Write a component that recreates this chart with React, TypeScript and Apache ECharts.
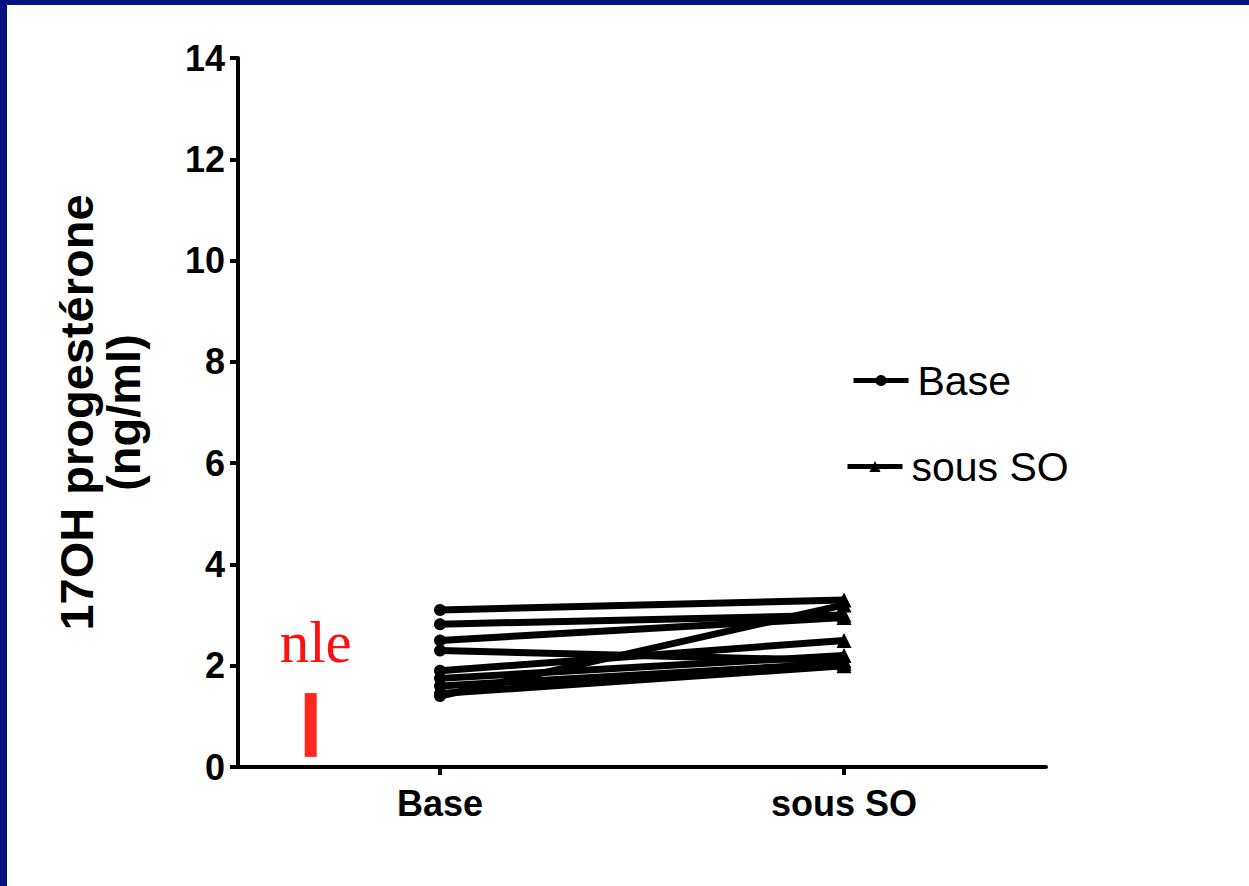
import React, { useEffect, useRef } from "react";
import * as echarts from "echarts";

const categories = ["Base", "sous SO"];
const baseValues = [3.1, 2.82, 2.5, 2.3, 1.9, 1.75, 1.6, 1.45, 1.4];
const sousSOValues = [3.3, 3.0, 2.95, 2.1, 2.5, 2.2, 2.05, 2.0, 3.2];
const yTicks = { min: 0, max: 14, interval: 2 };
const nleX = [0.18];
const nleRange = [0.2, 1.46];
const nleLabel = "nle";
const yTitle = "17OH progestérone\n(ng/ml)";

const FONT = "'Liberation Sans', Arial, Helvetica, sans-serif";

export default function App() {
  const ref = useRef<HTMLDivElement>(null);
  useEffect(() => {
    if (!ref.current) return;
    const chart = echarts.init(ref.current, null, { renderer: "svg" });

    const pairSeries = baseValues.map((b, i) => ({
      type: "line",
      name: "subject" + (i + 1),
      xAxisIndex: 0,
      yAxisIndex: 0,
      data: [
        { value: b, symbol: "circle", symbolSize: 12 },
        { value: sousSOValues[i], symbol: "triangle", symbolSize: 15 },
      ],
      lineStyle: { color: "#000", width: 7 },
      itemStyle: { color: "#000" },
      showSymbol: true,
      silent: true,
      z: 3,
    }));

    const legendCommon = {
      padding: 0,
      itemWidth: 55,
      itemHeight: 14,
      selectedMode: false,
      lineStyle: { color: "#000", width: 5 },
      itemStyle: { color: "#000" },
      textStyle: { fontSize: 41, color: "#000", fontFamily: FONT, padding: [0, 0, 0, 4] },
    };

    const option: any = {
      animation: false,
      backgroundColor: "#fff",
      textStyle: { fontFamily: FONT },
      grid: {
        left: 238,
        top: 58,
        right: 1249 - 1046,
        bottom: 886 - 767,
        containLabel: false,
        outerBoundsMode: "none",
      },
      legend: [
        { ...legendCommon, data: ["Base"], left: 851, top: 360 },
        { ...legendCommon, data: ["sous SO"], left: 845, top: 446 },
      ],
      xAxis: [
        {
          type: "category",
          data: categories,
          boundaryGap: true,
          axisLine: { lineStyle: { color: "#000", width: 4 } },
          axisTick: { show: true, alignWithLabel: true, length: 8, lineStyle: { color: "#000", width: 4 } },
          axisLabel: { color: "#000", fontSize: 36, fontWeight: "bold", fontFamily: FONT, margin: 18 },
          splitLine: { show: false },
        },
        {
          type: "value",
          min: 0,
          max: 2,
          show: false,
          position: "bottom",
        },
      ],
      yAxis: {
        type: "value",
        min: yTicks.min,
        max: yTicks.max,
        interval: yTicks.interval,
        name: yTitle,
        nameLocation: "middle",
        nameRotate: 90,
        nameGap: 91,
        nameTextStyle: { fontSize: 47, fontWeight: "bold", color: "#000", fontFamily: FONT, lineHeight: 47 },
        axisLine: { show: true, lineStyle: { color: "#000", width: 4 } },
        axisTick: { show: true, length: 8, lineStyle: { color: "#000", width: 4 } },
        axisLabel: { color: "#000", fontSize: 36, fontWeight: "bold", fontFamily: FONT, margin: 13 },
        splitLine: { show: false },
      },
      series: [
        ...pairSeries,
        {
          type: "line",
          name: "Base",
          data: [],
          symbol: "circle",
          symbolSize: 12,
          lineStyle: { color: "#000", width: 5 },
          itemStyle: { color: "#000" },
        },
        {
          type: "line",
          name: "sous SO",
          data: [],
          symbol: "triangle",
          symbolSize: 14,
          lineStyle: { color: "#000", width: 5 },
          itemStyle: { color: "#000" },
        },
        {
          type: "custom",
          name: "nle",
          xAxisIndex: 1,
          yAxisIndex: 0,
          silent: true,
          data: [[nleX[0], nleRange[0], nleRange[1]]],
          renderItem: (params: any, api: any) => {
            const x = api.value(0);
            const p0 = api.coord([x, api.value(1)]);
            const p1 = api.coord([x, api.value(2)]);
            return {
              type: "group",
              children: [
                {
                  type: "rect",
                  shape: { x: p0[0] - 6, y: p1[1], width: 12, height: p0[1] - p1[1] },
                  style: { fill: "#ff2a1f" },
                },
                {
                  type: "text",
                  style: {
                    text: nleLabel,
                    x: p0[0] + 5,
                    y: p1[1] - 51,
                    align: "center",
                    verticalAlign: "middle",
                    fill: "#ff1010",
                    fontSize: 59,
                    fontFamily: "'Liberation Serif', 'Times New Roman', serif",
                  },
                },
              ],
            };
          },
        },
      ],
    };
    chart.setOption(option);
    return () => chart.dispose();
  }, []);

  return (
    <div style={{ position: "fixed", left: 0, top: 0, width: 1249, height: 886, background: "#fff" }}>
      <div style={{ position: "absolute", left: 0, top: 0, width: 1249, height: 5, background: "#011480", zIndex: 2 }} />
      <div style={{ position: "absolute", left: 0, top: 0, width: 7, height: 886, background: "#011480", zIndex: 2 }} />
      <div ref={ref} style={{ position: "absolute", left: 0, top: 0, width: 1249, height: 886 }} />
    </div>
  );
}
